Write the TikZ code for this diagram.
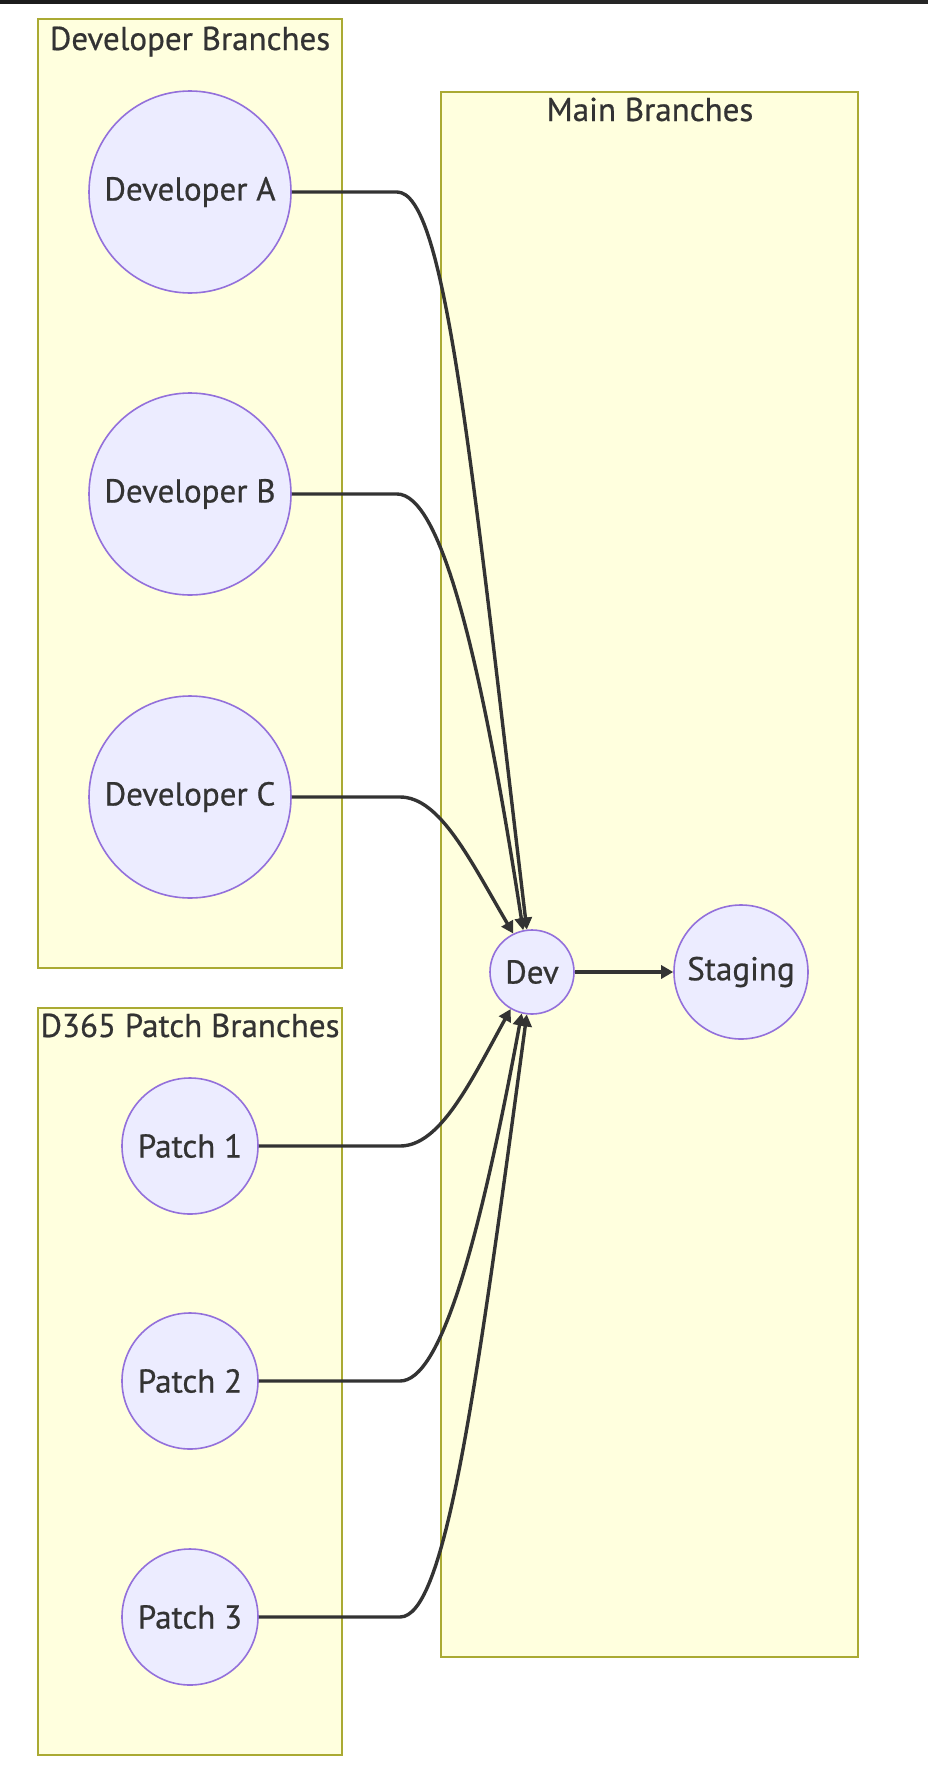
\documentclass[tikz,border=0pt]{standalone}
\usepackage{fontspec}
\setmainfont[FakeBold=0.6,AutoFakeBold=0.6]{PT Sans}
\usepackage{tikz}
\usetikzlibrary{shapes,positioning,calc}
\usetikzlibrary{arrows.meta}
\definecolor{riempi}{HTML}{ECECFF}
\definecolor{bordo}{HTML}{9370DB}
\definecolor{sfondo}{HTML}{FFFFDE}
\definecolor{cornice}{HTML}{AAAA33}
\definecolor{linea}{HTML}{333333}
\tikzstyle{ramo} = [circle, inner sep=0pt, fill=riempi, draw=bordo, line width=0.8pt, text=linea, font=\fontsize{16.5}{19}\selectfont\bfseries]
\tikzstyle{gruppo} = [fill=sfondo, draw=cornice, line width=0.8pt]
\tikzstyle{titolo} = [anchor=base, inner sep=0pt, text=linea, font=\fontsize{16.5}{19}\selectfont\bfseries]
\tikzstyle{arrow} = [line width=1.7pt, draw=linea, -{Triangle[length=6pt,width=6.5pt]}]
\begin{document}
\begin{tikzpicture}[x=0.5pt, y=-0.5pt]
				\useasboundingbox (0,0) rectangle (928,1772);
				\fill[white] (0,0) rectangle (928,1772);
				\fill[black!89] (0,0) rectangle (390,3.5);
				\fill[black!85] (390,0) rectangle (928,3.5);
				% gruppi
				\draw[gruppo] (38,19) rectangle (342,968);
				\draw[gruppo] (38,1008) rectangle (342,1755);
				\draw[gruppo] (441,92) rectangle (858,1657);
				\node[titolo] (tdev) at (190,50) {Developer Branches};
				\node[titolo] (tpatch) at (190,1037) {D365 Patch Branches};
				\node[titolo] (tmain) at (650,121) {Main Branches};
				% rami
				\node (deva) at (190,192) [ramo, minimum size=101pt] {Developer A};
				\node (devb) at (190,494) [ramo, minimum size=101pt] {Developer B};
				\node (devc) at (190,797) [ramo, minimum size=101pt] {Developer C};
				\node (pa) at (190,1146) [ramo, minimum size=68pt] {Patch 1};
				\node (pb) at (190,1381) [ramo, minimum size=68pt] {Patch 2};
				\node (pc) at (190,1617) [ramo, minimum size=68pt] {Patch 3};
				\node (dev) at (532,972) [ramo, minimum size=42pt] {Dev};
				\node (stag) at (741,972) [ramo, minimum size=67pt] {Staging};
				% frecce
				\draw[arrow] (deva.east) -- (397,192) .. controls (445,192) and (470,450) .. (dev.97);
				\draw[arrow] (devb.east) -- (397,494) .. controls (440,494) and (480,650) .. (dev.102);
				\draw[arrow] (devc.east) -- (400,797) .. controls (440,797) and (470,860) .. (dev.116);
				\draw[arrow] (pa.east) -- (400,1146) .. controls (440,1146) and (470,1083) .. (dev.240);
				\draw[arrow] (pb.east) -- (400,1381) .. controls (440,1381) and (478,1249) .. (dev.256);
				\draw[arrow] (pc.east) -- (400,1617) .. controls (445,1617) and (475,1400) .. (dev.263);
				\draw[arrow] (dev) -- (stag);
\end{tikzpicture}
\end{document}
